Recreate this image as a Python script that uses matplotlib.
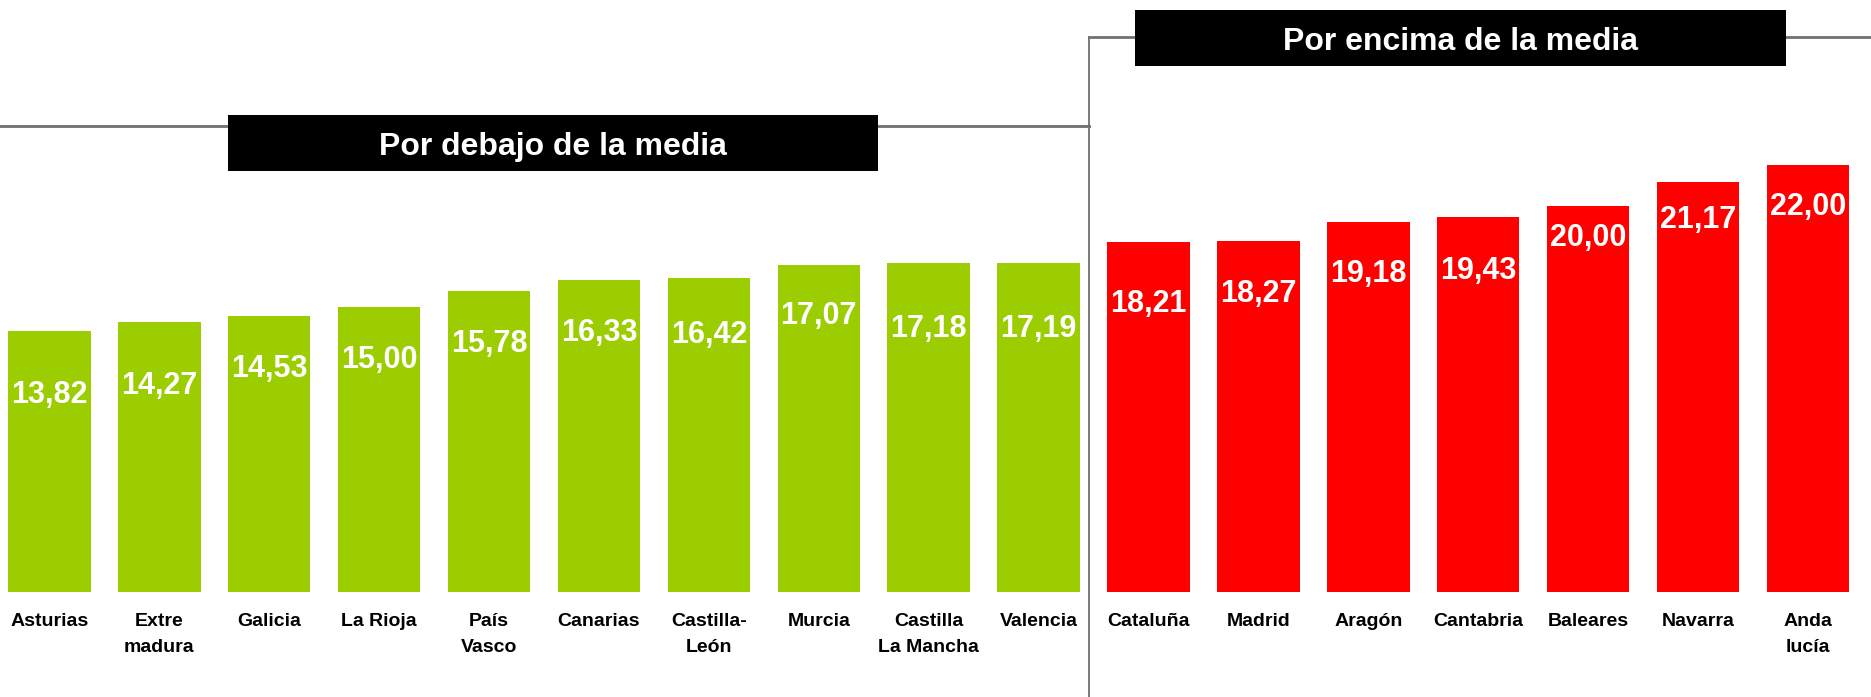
import matplotlib
matplotlib.use("Agg")
import matplotlib.pyplot as plt
from matplotlib.patches import Rectangle
from matplotlib.lines import Line2D

# Data
below_regions = ["Asturias", "Extre\nmadura", "Galicia", "La Rioja", "País\nVasco",
                 "Canarias", "Castilla-\nLeón", "Murcia", "Castilla\nLa Mancha", "Valencia"]
below_values = [13.82, 14.27, 14.53, 15.00, 15.78, 16.33, 16.42, 17.07, 17.18, 17.19]

above_regions = ["Cataluña", "Madrid", "Aragón", "Cantabria", "Baleares", "Navarra", "Anda\nlucía"]
above_values = [18.21, 18.27, 19.18, 19.43, 20.00, 21.17, 22.00]

below_title = "Por debajo de la media"
above_title = "Por encima de la media"

# Styling
GREEN = "#9BCD00"
RED = "#FF0000"
LINE = "#707070"
FONT = "Liberation Sans"

# distance (points) from the top of each bar down to its value label
label_drop = [46, 46, 38, 38, 38, 38, 41, 37, 48, 48, 45, 38, 37, 39, 23, 27, 30]

W, H = 1871, 697
fig = plt.figure(figsize=(W / 100, H / 100), dpi=100)

def fx(px):
    return px / W

def fy(py):
    return 1 - py / H

ax = fig.add_axes([0, fy(592), 1, fy(40) - fy(592)])

regions = below_regions + above_regions
values = below_values + above_values
colors = [GREEN] * len(below_values) + [RED] * len(above_values)
x = list(range(len(values)))

ax.bar(x, values, width=0.75, color=colors, edgecolor="none")
ax.set_xlim(-0.45, 16.574)
ax.set_ylim(0.9, 28.2)
ax.axis("off")

for xi, v, drop in zip(x, values, label_drop):
    ax.annotate(f"{v:.2f}".replace(".", ","), xy=(xi, v), xytext=(0, -drop),
                textcoords="offset points", ha="center", va="center",
                color="white", fontsize=22, fontweight="bold", family=FONT)

for xi, name in zip(x, regions):
    ax.annotate(name, xy=(xi, 0.9), xytext=(0, -15), textcoords="offset points",
                ha="center", va="top", fontsize=14, fontweight="bold",
                family=FONT, linespacing=1.7, annotation_clip=False)

# Connector lines separating the two groups
lw = 2
fig.add_artist(Line2D([fx(0), fx(1089)], [fy(126), fy(126)], color=LINE, lw=lw,
                      transform=fig.transFigure, zorder=1))
fig.add_artist(Line2D([fx(1089), fx(1089)], [fy(37), fy(697)], color=LINE, lw=1.3,
                      transform=fig.transFigure, zorder=1))
fig.add_artist(Line2D([fx(1089), fx(W)], [fy(37), fy(37)], color=LINE, lw=lw,
                      transform=fig.transFigure, zorder=1))

# Group title boxes
for (x0, y0, x1, y1), title in [((228, 115, 878, 171), below_title),
                                 ((1135, 10, 1786, 66), above_title)]:
    fig.add_artist(Rectangle((fx(x0), fy(y1)), fx(x1) - fx(x0), fy(y0) - fy(y1),
                             facecolor="black", edgecolor="none",
                             transform=fig.transFigure, zorder=2))
    fig.text(fx((x0 + x1) / 2), fy((y0 + y1) / 2 + 4), title, ha="center", va="center",
             color="white", fontsize=23, fontweight="bold", family=FONT, zorder=3)

fig.savefig("out.png", dpi=100)
